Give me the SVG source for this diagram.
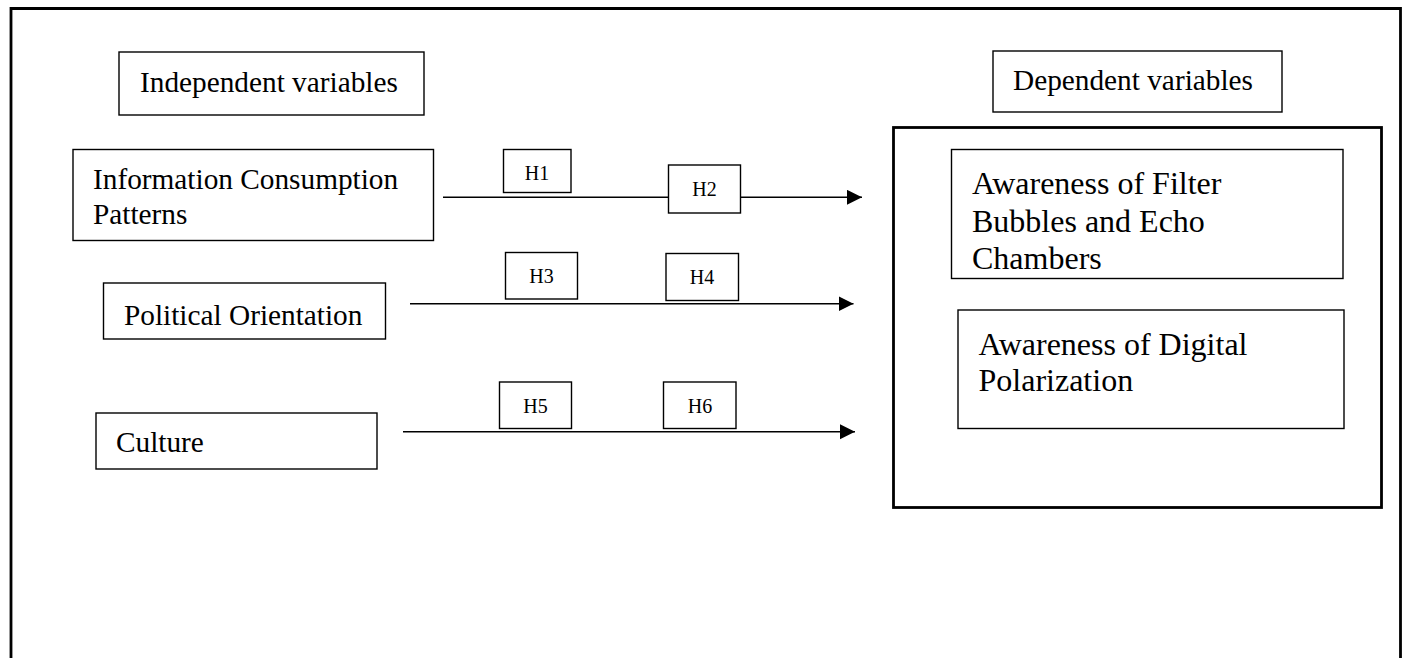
<svg xmlns="http://www.w3.org/2000/svg" width="1405" height="658" viewBox="0 0 1405 658">
<style>
.box{fill:#fff;stroke:#000;stroke-width:1.4}
.thick{fill:none;stroke:#000;stroke-width:2.8}
.t{font-family:"Liberation Serif","Times New Roman",serif;fill:#000}
.l{font-size:29.3px}
.r{font-size:32px}
.h{font-size:20px;text-anchor:middle}
.conn{stroke:#000;stroke-width:1.6;fill:none}
</style>
<defs>
<marker id="ah" markerUnits="userSpaceOnUse" markerWidth="16" markerHeight="16" refX="15" refY="7.5" orient="auto">
<path d="M0,0 L15,7.5 L0,15 z" fill="#000"/>
</marker>
</defs>
<rect width="1405" height="658" fill="#fff"/>
<path class="thick" d="M11,660 V8.5 H1400.5 V660"/>
<g id="connectors">
<line class="conn" x1="443" y1="197.3" x2="862" y2="197.3" marker-end="url(#ah)"/>
<line class="conn" x1="410" y1="303.7" x2="853.5" y2="303.7" marker-end="url(#ah)"/>
<line class="conn" x1="403" y1="431.7" x2="855" y2="431.7" marker-end="url(#ah)"/>
</g>
<g id="independent-label">
<rect class="box" x="119" y="52" width="305" height="63"/>
<text class="t l" x="140" y="92">Independent variables</text>
</g>
<g id="dependent-label">
<rect class="box" x="993" y="51" width="289" height="61"/>
<text class="t l" x="1013" y="90">Dependent variables</text>
</g>
<g id="info">
<rect class="box" x="73" y="149.5" width="360.5" height="91"/>
<text class="t l" x="93" y="189">Information Consumption</text>
<text class="t l" x="93" y="224">Patterns</text>
</g>
<g id="political">
<rect class="box" x="103.5" y="283" width="282" height="56"/>
<text class="t l" x="124" y="325">Political Orientation</text>
</g>
<g id="culture">
<rect class="box" x="96" y="413" width="281" height="56"/>
<text class="t l" x="116" y="452">Culture</text>
</g>
<g id="h1"><rect class="box" x="503.5" y="149.5" width="67.5" height="43"/><text class="t h" x="537" y="180">H1</text></g>
<g id="h2"><rect class="box" x="668.5" y="165" width="72" height="48"/><text class="t h" x="704.5" y="196">H2</text></g>
<g id="h3"><rect class="box" x="505.5" y="252.5" width="72" height="46.5"/><text class="t h" x="541.5" y="283">H3</text></g>
<g id="h4"><rect class="box" x="666" y="253.5" width="72.5" height="47"/><text class="t h" x="702" y="284">H4</text></g>
<g id="h5"><rect class="box" x="499.5" y="382" width="72" height="46.5"/><text class="t h" x="535.5" y="413">H5</text></g>
<g id="h6"><rect class="box" x="663.5" y="382" width="72.5" height="46.5"/><text class="t h" x="700" y="413">H6</text></g>
<g id="dependent-group">
<rect class="thick" x="893.5" y="127.5" width="488" height="380"/>
</g>
<g id="filter">
<rect class="box" x="951.5" y="149.5" width="391.5" height="129"/>
<text class="t r" x="972" y="194">Awareness of Filter</text>
<text class="t r" x="972" y="232">Bubbles and Echo</text>
<text class="t r" x="972" y="269">Chambers</text>
</g>
<g id="digital">
<rect class="box" x="958" y="310" width="386" height="118.5"/>
<text class="t r" x="978.5" y="355">Awareness of Digital</text>
<text class="t r" x="978.5" y="391">Polarization</text>
</g>
</svg>
